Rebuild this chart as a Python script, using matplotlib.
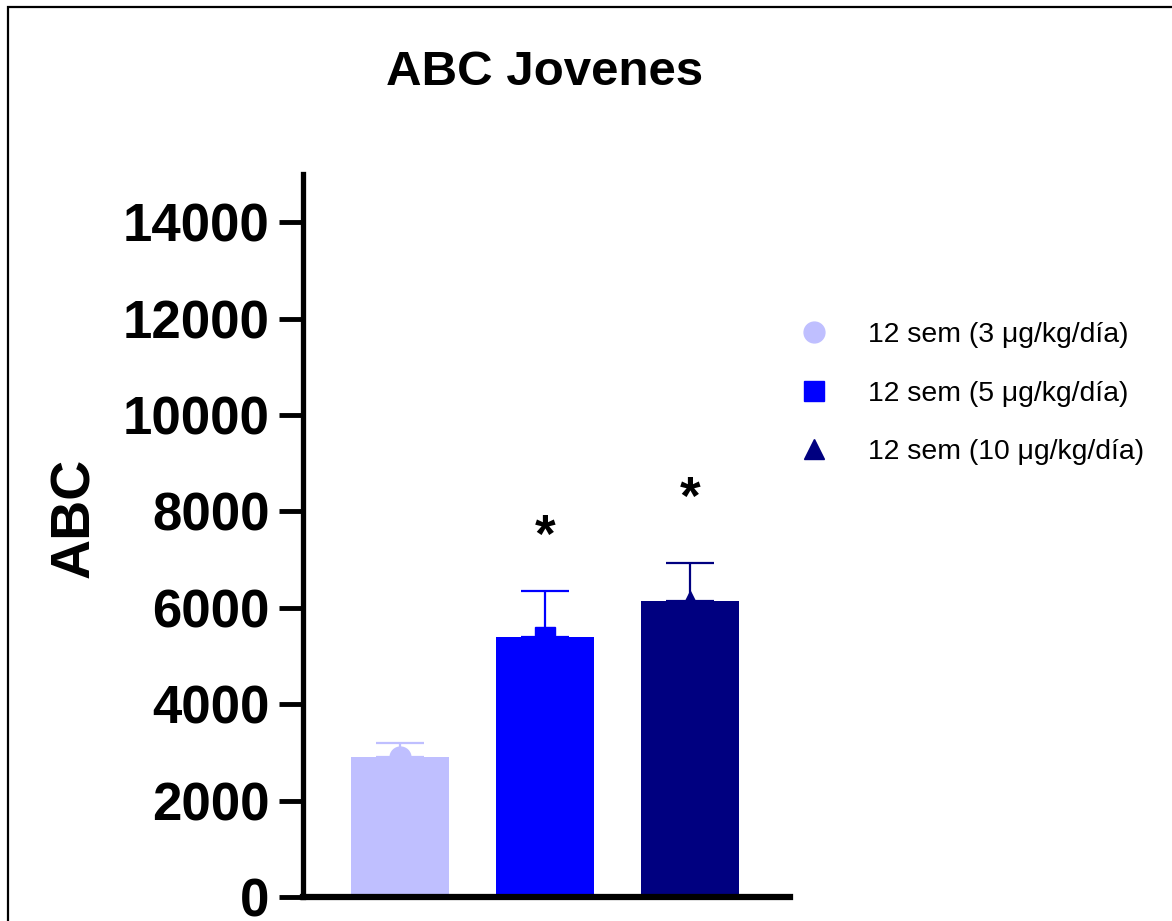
import matplotlib as mpl
mpl.use('Agg')
import matplotlib.pyplot as plt
from matplotlib.lines import Line2D
from matplotlib.patches import Rectangle

plt.rcParams['font.family'] = ['Liberation Sans', 'DejaVu Sans']

# datos
grupos = ["12 sem (3 μg/kg/día)", "12 sem (5 μg/kg/día)", "12 sem (10 μg/kg/día)"]
medias = [2900, 5400, 6150]
sem = [300, 950, 780]
colores = ['#BFBFFF', '#0000FF', '#000080']
marcadores = ['o', 's', '^']
asteriscos = ['', '*', '*']
alt_asterisco = [0, 7150, 7950]
yticks = [0, 2000, 4000, 6000, 8000, 10000, 12000, 14000]

W, H = 1172, 921
fig = plt.figure(figsize=(W / 100, H / 100), dpi=100)

# marco de la figura (cortado a la derecha y abajo)
fig.patches.append(Rectangle((8 / W, -0.1), 1.2, 1.1 - 7 / H, transform=fig.transFigure,
                             fill=False, edgecolor='black', linewidth=1.6))

ax = fig.add_axes([303 / W, 1 - 897 / H, (790 - 303) / W, (897 - 174) / H])

x = list(range(len(medias)))
for i in x:
    ax.bar(i, medias[i], width=0.675, color=colores[i], zorder=2)
    ax.errorbar(i, medias[i], yerr=[[0], [sem[i]]], color=colores[i], elinewidth=1.6,
                capsize=17, capthick=1.6, fmt='none', zorder=1)
    ax.plot(i, medias[i], marker=marcadores[i], color=colores[i], markersize=15,
            linestyle='none', zorder=3)
    if asteriscos[i]:
        ax.text(i, alt_asterisco[i], asteriscos[i], ha='center', va='baseline',
                fontsize=38, fontweight='bold')

ax.set_xlim(-0.669, 2.69)
ax.set_ylim(0, 15000)
ax.set_yticks(yticks)
ax.set_yticklabels([str(t) for t in yticks], fontsize=38, fontweight='bold')
ax.set_xticks([])
ax.tick_params(axis='y', length=17, width=3.5, pad=7)
for s in ['top', 'right']:
    ax.spines[s].set_visible(False)
ax.spines['left'].set_linewidth(3.8)
ax.spines['bottom'].set_linewidth(4.5)

fig.text(545 / W, 1 - 85 / H, "ABC Jovenes", ha='center', va='baseline',
         fontsize=35.5, fontweight='bold')
fig.text(75 / W, 1 - 518 / H, "ABC", rotation=90, ha='center', va='center',
         fontsize=40, fontweight='bold')

handles = [Line2D([], [], marker=marcadores[i], color=colores[i], linestyle='none',
                  markersize=15) for i in x]
fig.legend(handles, grupos, loc='upper left', bbox_to_anchor=(800 / W, 1 - 322 / H),
           frameon=False, fontsize=20.4, handlelength=1.0, handletextpad=1.4,
           labelspacing=1.15, borderaxespad=0, borderpad=0)

fig.savefig('out.png', dpi=100)
